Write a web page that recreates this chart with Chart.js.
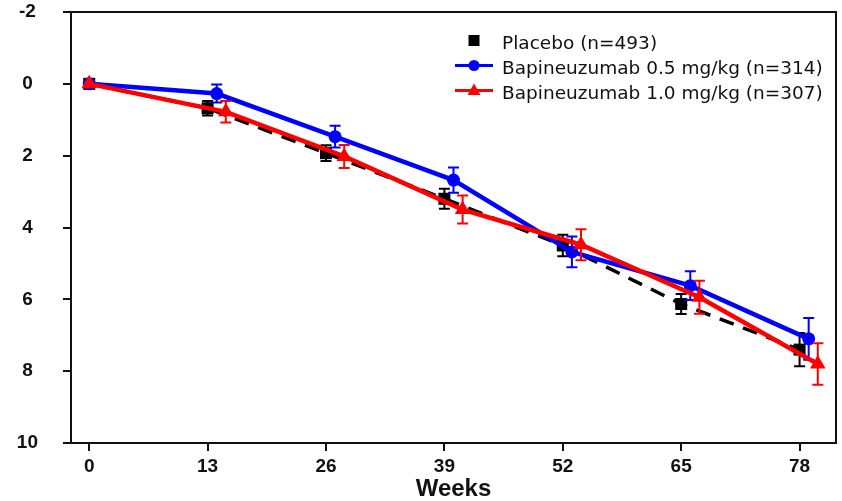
<!DOCTYPE html>
<html>
<head>
<meta charset="utf-8">
<script src="https://cdn.jsdelivr.net/npm/chart.js@4.4.0/dist/chart.umd.min.js"></script>
<style>
  html, body { margin: 0; padding: 0; background: #fff; overflow: hidden; }
  #wrap { width: 842px; height: 501px; }
</style>
</head>
<body>
<div id="wrap"><canvas id="chart"></canvas></div>
<script>
// visit weeks and axis ticks
const weeks = [0, 13, 26, 39, 52, 65, 78];
const yTicks = [-2, 0, 2, 4, 6, 8, 10];

// mean change from baseline and its standard error, per arm
const placebo = [0, 0.68, 1.93, 3.2, 4.5, 6.13, 7.4];
const placeboErr = [0, 0.2, 0.22, 0.28, 0.3, 0.28, 0.46];
const bapi05 = [0, 0.27, 1.47, 2.68, 4.68, 5.62, 7.1];
const bapi05Err = [0, 0.25, 0.3, 0.35, 0.43, 0.4, 0.58];
const bapi10 = [0, 0.78, 2.02, 3.5, 4.48, 5.94, 7.8];
const bapi10Err = [0, 0.3, 0.32, 0.39, 0.43, 0.46, 0.58];

const seriesNames = [
  "Placebo (n=493)",
  "Bapineuzumab 0.5 mg/kg (n=314)",
  "Bapineuzumab 1.0 mg/kg (n=307)",
];

// arms are nudged sideways so the error bars don't sit on top of each other
function points(values, shift) {
  return weeks.map((w, i) => ({ x: w === 0 ? w : w + shift, y: values[i] }));
}

// vertical error bars with caps, drawn right after each dataset
const errorBars = {
  id: "errorBars",
  afterDatasetDraw(chart, args) {
    const ds = chart.data.datasets[args.index];
    if (!ds.errors) return;
    const { ctx, scales } = chart;
    ctx.save();
    ctx.strokeStyle = ds.borderColor;
    ctx.lineWidth = 2;
    ds.data.forEach((p, i) => {
      const e = ds.errors[i];
      if (!e) return;
      const px = scales.x.getPixelForValue(p.x);
      const top = scales.y.getPixelForValue(p.y - e);
      const bot = scales.y.getPixelForValue(p.y + e);
      ctx.beginPath();
      ctx.moveTo(px, top);
      ctx.lineTo(px, bot);
      ctx.moveTo(px - 5.5, top);
      ctx.lineTo(px + 5.5, top);
      ctx.moveTo(px - 5.5, bot);
      ctx.lineTo(px + 5.5, bot);
      ctx.stroke();
    });
    ctx.restore();
  },
};

// closes the box on the top and right sides
const frame = {
  id: "frame",
  beforeDatasetsDraw(chart) {
    const { ctx, chartArea: a } = chart;
    ctx.save();
    ctx.strokeStyle = "#111";
    ctx.lineWidth = 2;
    ctx.beginPath();
    ctx.moveTo(a.left, a.top);
    ctx.lineTo(a.right, a.top);
    ctx.lineTo(a.right, a.bottom);
    ctx.stroke();
    ctx.restore();
  },
};

// legend in the upper right corner of the plot
const legendBox = {
  id: "legendBox",
  afterDraw(chart) {
    const ctx = chart.ctx;
    const mx = 474;
    ctx.save();
    chart.data.datasets.forEach((ds, i) => {
      const y = 40.5 + i * 25;
      ctx.strokeStyle = ds.borderColor;
      ctx.fillStyle = ds.backgroundColor;
      if (ds.pointStyle !== "rect") {
        ctx.lineWidth = 3;
        ctx.setLineDash([]);
        ctx.beginPath();
        ctx.moveTo(455, y);
        ctx.lineTo(493, y);
        ctx.stroke();
      }
      ctx.beginPath();
      if (ds.pointStyle === "rect") {
        ctx.rect(mx - 5.5, y - 5.5, 11, 11);
      } else if (ds.pointStyle === "circle") {
        ctx.arc(mx, y, 5.5, 0, Math.PI * 2);
      } else {
        ctx.moveTo(mx, y - 7);
        ctx.lineTo(mx + 6.5, y + 4.5);
        ctx.lineTo(mx - 6.5, y + 4.5);
        ctx.closePath();
      }
      ctx.fill();
      ctx.fillStyle = "#111";
      ctx.font = "18.5px 'DejaVu Sans'";
      ctx.textBaseline = "alphabetic";
      ctx.fillText(ds.label, 502, y + 8);
    });
    ctx.restore();
  },
};

const tickFont = { family: "'Liberation Sans', Arial, sans-serif", size: 19, weight: "bold" };

new Chart(document.getElementById("chart"), {
  type: "line",
  data: {
    datasets: [
      {
        label: seriesNames[0],
        data: points(placebo, 0),
        errors: placeboErr,
        order: 3,
        borderColor: "#000000",
        backgroundColor: "#000000",
        borderWidth: 3.5,
        borderDash: [15, 10],
        pointStyle: "rect",
        pointRadius: 8.5,
        pointBorderWidth: 0,
      },
      {
        label: seriesNames[1],
        data: points(bapi05, 1),
        errors: bapi05Err,
        order: 2,
        borderColor: "#0000ff",
        backgroundColor: "#0000ff",
        borderWidth: 4.5,
        pointStyle: "circle",
        pointRadius: 6.5,
        pointBorderWidth: 0,
      },
      {
        label: seriesNames[2],
        data: points(bapi10, 2),
        errors: bapi10Err,
        order: 1,
        borderColor: "#ff0000",
        backgroundColor: "#ff0000",
        borderWidth: 4.5,
        pointStyle: "triangle",
        pointRadius: 9,
        pointBorderWidth: 0,
      },
    ],
  },
  options: {
    responsive: true,
    maintainAspectRatio: false,
    animation: false,
    layout: { autoPadding: false, padding: { top: 12, right: 6, left: 0, bottom: 0 } },
    plugins: {
      legend: { display: false },
      tooltip: { enabled: false },
    },
    scales: {
      x: {
        type: "linear",
        min: -2,
        max: 82,
        afterBuildTicks: (s) => { s.ticks = weeks.map((v) => ({ value: v })); },
        afterFit: (s) => {
          s.height = 58;
          s.paddingLeft = 0;
          s.paddingRight = 0;
        },
        grid: { drawOnChartArea: false, tickLength: 8, tickColor: "#111", lineWidth: 2 },
        border: { color: "#111", width: 2 },
        ticks: { font: tickFont, color: "#111", padding: 4, maxRotation: 0 },
        title: {
          display: true,
          text: "Weeks",
          color: "#111",
          font: { family: "'Liberation Sans', Arial, sans-serif", size: 24, weight: "bold", lineHeight: 1 },
          padding: 0,
        },
      },
      y: {
        type: "linear",
        reverse: true,
        min: -2,
        max: 10,
        afterBuildTicks: (s) => { s.ticks = yTicks.map((v) => ({ value: v })); },
        afterFit: (s) => {
          s.width = 71;
          s.paddingTop = 0;
          s.paddingBottom = 0;
        },
        grid: { drawOnChartArea: false, tickLength: 8, tickColor: "#111", lineWidth: 2 },
        border: { color: "#111", width: 2 },
        ticks: {
          font: tickFont,
          color: "#111",
          padding: 25,
          crossAlign: "center",
          callback: (v) => String(v),
        },
      },
    },
  },
  plugins: [frame, errorBars, legendBox],
});
</script>
</body>
</html>
